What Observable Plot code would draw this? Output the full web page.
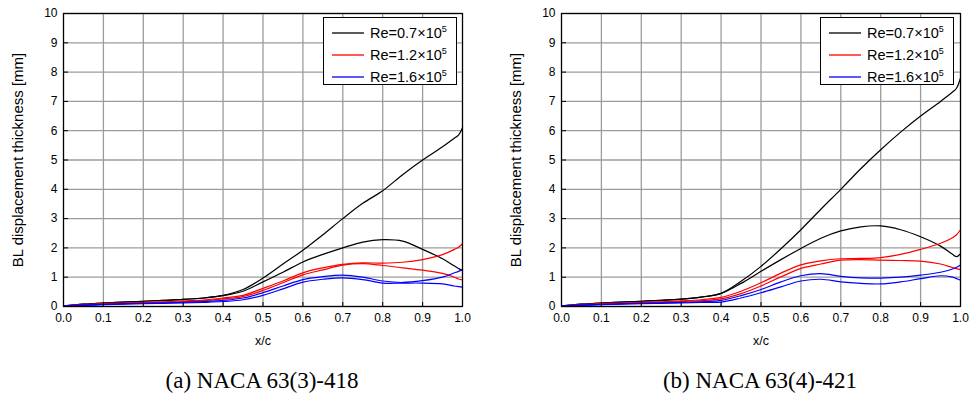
<!DOCTYPE html>
<html>
<head>
<meta charset="utf-8">
<script src="https://cdn.jsdelivr.net/npm/d3@7"></script>
<script src="https://cdn.jsdelivr.net/npm/@observablehq/plot@0.6"></script>
<style>
  body { margin: 0; background: #fff; font-family: "Liberation Sans", Arial, sans-serif; }
  #wrap { position: relative; width: 971px; height: 402px; overflow: hidden; }
  .panel { position: absolute; top: 0; }
  .legend { position: absolute; box-sizing: border-box; border: 1px solid #000; background: #fff; }
  .lrow { position: absolute; left: 0; height: 20px; display: flex; align-items: center; font-size: 14.5px; color: #000; white-space: nowrap; }
  .lrow svg { margin-left: 8px; margin-right: 6px; }
  .lrow sup { font-size: 9px; vertical-align: 6px; line-height: 0; }
  .caption { position: absolute; font-family: "Liberation Serif", "DejaVu Serif", serif; font-size: 23px; color: #000; white-space: nowrap; transform: translate(-50%, -50%); }
</style>
</head>
<body>
<div id="wrap"></div>
<script>
// ---- data ----
const xs = [0, 0.05, 0.1, 0.15, 0.2, 0.25, 0.3, 0.35, 0.4, 0.45, 0.5, 0.55, 0.6, 0.65, 0.7, 0.75, 0.8, 0.85, 0.9, 0.95, 0.98, 0.99, 1.0];
const xTicks = [0, 0.1, 0.2, 0.3, 0.4, 0.5, 0.6, 0.7, 0.8, 0.9, 1.0];
const yTicks = [0, 1, 2, 3, 4, 5, 6, 7, 8, 9, 10];
const reLabels = ["0.7", "1.2", "1.6"];
const reColors = ["#000000", "#ff0000", "#0000ff"];
const captions = ["(a) NACA 63(3)-418", "(b) NACA 63(4)-421"];
const xLabel = "x/c";
const yLabel = "BL displacement thickness [mm]";

// panel (a) NACA 63(3)-418
const a_re07_1 = [0.02, 0.08, 0.12, 0.15, 0.18, 0.21, 0.24, 0.29, 0.38, 0.58, 0.97, 1.45, 1.92, 2.45, 3.0, 3.52, 3.95, 4.5, 5.0, 5.45, 5.75, 5.85, 6.1];
const a_re07_2 = [0.02, 0.08, 0.12, 0.15, 0.18, 0.21, 0.24, 0.29, 0.37, 0.52, 0.84, 1.17, 1.52, 1.78, 2.0, 2.2, 2.28, 2.23, 1.95, 1.63, 1.38, 1.3, 1.22];
const a_re12_1 = [0.02, 0.06, 0.10, 0.12, 0.14, 0.16, 0.19, 0.22, 0.29, 0.38, 0.62, 0.87, 1.15, 1.32, 1.44, 1.49, 1.48, 1.51, 1.6, 1.77, 1.95, 2.02, 2.14];
const a_re12_2 = [0.02, 0.05, 0.08, 0.10, 0.12, 0.14, 0.16, 0.20, 0.26, 0.34, 0.55, 0.81, 1.08, 1.25, 1.41, 1.46, 1.4, 1.32, 1.24, 1.13, 1.0, 0.94, 0.91];
const a_re16_1 = [0.02, 0.05, 0.07, 0.09, 0.11, 0.12, 0.14, 0.17, 0.21, 0.29, 0.47, 0.70, 0.92, 1.02, 1.07, 1.0, 0.87, 0.82, 0.88, 1.0, 1.15, 1.2, 1.26];
const a_re16_2 = [0.02, 0.04, 0.06, 0.08, 0.10, 0.11, 0.12, 0.14, 0.17, 0.23, 0.38, 0.60, 0.83, 0.93, 0.98, 0.92, 0.8, 0.8, 0.8, 0.77, 0.7, 0.68, 0.66];

// panel (b) NACA 63(4)-421
const b_re07_1 = [0.02, 0.08, 0.12, 0.15, 0.18, 0.21, 0.25, 0.32, 0.45, 0.86, 1.37, 1.97, 2.62, 3.32, 4.0, 4.7, 5.35, 5.95, 6.5, 7.0, 7.32, 7.45, 7.8];
const b_re07_2 = [0.02, 0.08, 0.12, 0.15, 0.18, 0.21, 0.25, 0.32, 0.45, 0.79, 1.2, 1.6, 1.98, 2.33, 2.58, 2.72, 2.75, 2.62, 2.38, 2.06, 1.78, 1.7, 1.8];
const b_re12_1 = [0.02, 0.06, 0.10, 0.12, 0.14, 0.16, 0.19, 0.23, 0.31, 0.52, 0.81, 1.14, 1.42, 1.56, 1.63, 1.64, 1.67, 1.78, 1.95, 2.16, 2.35, 2.45, 2.62];
const b_re12_2 = [0.02, 0.05, 0.08, 0.10, 0.12, 0.14, 0.17, 0.20, 0.26, 0.44, 0.70, 1.01, 1.3, 1.45, 1.58, 1.6, 1.58, 1.57, 1.55, 1.45, 1.33, 1.29, 1.26];
const b_re16_1 = [0.02, 0.05, 0.07, 0.09, 0.11, 0.12, 0.14, 0.16, 0.21, 0.37, 0.58, 0.84, 1.05, 1.12, 1.03, 0.98, 0.97, 1.0, 1.07, 1.17, 1.28, 1.34, 1.42];
const b_re16_2 = [0.02, 0.04, 0.06, 0.08, 0.10, 0.11, 0.12, 0.14, 0.15, 0.29, 0.47, 0.67, 0.87, 0.93, 0.84, 0.79, 0.77, 0.84, 0.95, 1.05, 1.0, 0.95, 0.9];

const panels = [
  { left: 0, width: 485, marginLeft: 63, marginRight: 23, legendLeft: 323, caption: captions[0], captionX: 262,
    series: [["0.7", a_re07_1], ["0.7", a_re07_2], ["1.2", a_re12_1], ["1.2", a_re12_2], ["1.6", a_re16_1], ["1.6", a_re16_2]] },
  { left: 490, width: 481, marginLeft: 71, marginRight: 11, legendLeft: 820, caption: captions[1], captionX: 760,
    series: [["0.7", b_re07_1], ["0.7", b_re07_2], ["1.2", b_re12_1], ["1.2", b_re12_2], ["1.6", b_re16_1], ["1.6", b_re16_2]] }
];

const wrap = document.getElementById("wrap");
const gridStyle = { stroke: "#9c9c9c", strokeOpacity: 1, strokeWidth: 1.3 };

panels.forEach((p, pi) => {
  const rows = p.series.flatMap(([re, vals], si) => xs.map((x, i) => ({ x, y: vals[i], re, key: pi + "-" + si })));
  const chart = Plot.plot({
    width: p.width, height: 352,
    marginLeft: p.marginLeft, marginRight: p.marginRight, marginTop: 13, marginBottom: 46,
    x: { domain: [0, 1] },
    y: { domain: [0, 10] },
    color: { domain: reLabels, range: reColors },
    style: { fontFamily: "'Liberation Sans', Arial, sans-serif", fontSize: "12px", color: "#000", background: "transparent", overflow: "visible" },
    marks: [
      Plot.gridX(xTicks, gridStyle),
      Plot.gridY(yTicks, gridStyle),
      Plot.line(rows, { x: "x", y: "y", z: "key", stroke: "re", strokeWidth: 1.2, curve: "catmull-rom" }),
      Plot.frame({ stroke: "#000", strokeWidth: 1.2 }),
      Plot.axisX(xTicks, { tickSize: 0, tickPadding: 7, tickFormat: d => d.toFixed(1), label: null, labelArrow: "none" }),
      Plot.axisY(yTicks, { tickSize: 0, tickPadding: 6, tickFormat: d => String(d), label: null, labelArrow: "none" }),
      Plot.axisX(xTicks, { tickSize: -4, tickFormat: () => "", label: null, labelArrow: "none", stroke: "#000" }),
      Plot.axisY(yTicks, { tickSize: -5, tickFormat: () => "", label: null, labelArrow: "none", stroke: "#000" }),
      Plot.text([xLabel], { frameAnchor: "bottom", dy: 38, fontSize: 12.5, text: d => d }),
      Plot.text([yLabel], { frameAnchor: "left", textAnchor: "middle", rotate: -90, dx: -45, fontSize: 15, text: d => d })
    ]
  });
  const holder = document.createElement("div");
  holder.className = "panel";
  holder.style.left = p.left + "px";
  holder.appendChild(chart);
  wrap.appendChild(holder);

  // legend
  const lg = document.createElement("div");
  lg.className = "legend";
  lg.style.left = p.legendLeft + "px";
  lg.style.top = "17px";
  lg.style.width = "134px";
  lg.style.height = "68px";
  reLabels.forEach((re, i) => {
    const row = document.createElement("div");
    row.className = "lrow";
    row.style.top = (5 + i * 22) + "px";
    row.innerHTML = `<svg width="32" height="4"><line x1="0" x2="32" y1="2" y2="2" stroke="${reColors[i]}" stroke-width="1.3"/></svg><span>Re=${re}×10<sup>5</sup></span>`;
    lg.appendChild(row);
  });
  wrap.appendChild(lg);

  // caption
  const cap = document.createElement("div");
  cap.className = "caption";
  cap.style.left = p.captionX + "px";
  cap.style.top = "381px";
  cap.textContent = p.caption;
  wrap.appendChild(cap);
});
</script>
</body>
</html>
